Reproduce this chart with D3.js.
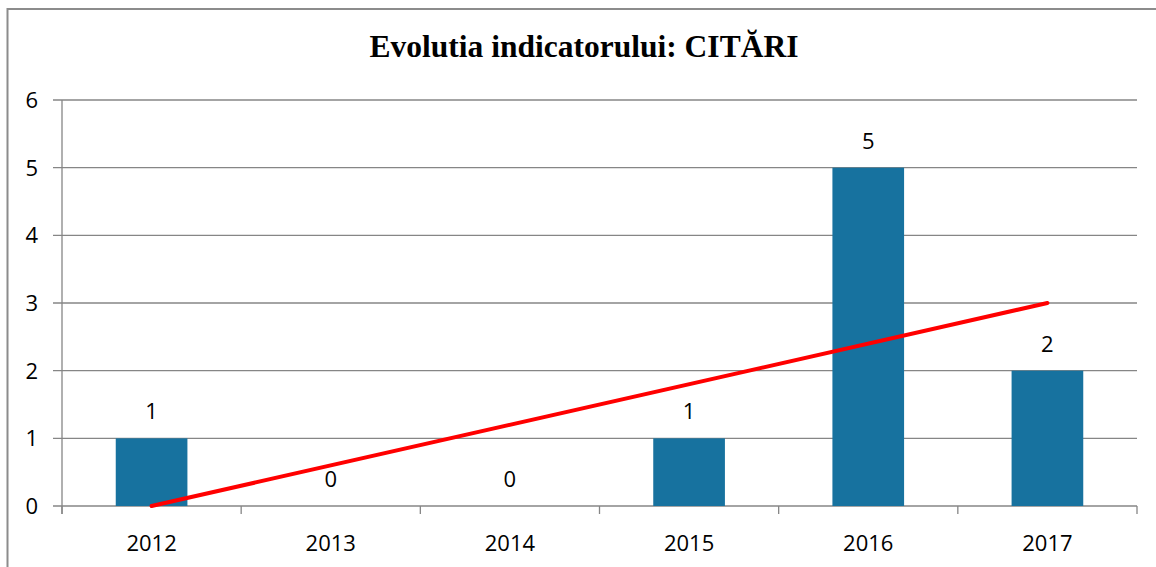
<!DOCTYPE html>
<html lang="ro">
<head>
<meta charset="utf-8">
<title>Evolutia indicatorului: CITĂRI</title>
<script src="https://d3js.org/d3.v7.min.js"></script>
<style>
  body { margin: 0; background: #fff; }
  svg { display: block; }
</style>
</head>
<body>
<script>
// DATA
var years = ["2012", "2013", "2014", "2015", "2016", "2017"];
var citari = [1, 0, 0, 1, 5, 2];
var yTicks = [0, 1, 2, 3, 4, 5, 6];
// linear trend line, value at first and last year
var trendEnds = [0, 3];

// SIZE
var w = 1156, h = 567;
var plotLeft = 62, plotRight = 1137, plotTop = 100, plotBottom = 506;
var labelFont = "'Open Sans', 'Liberation Sans', sans-serif";

var svg = d3.select("body").append("svg")
  .attr("width", w)
  .attr("height", h);

// outer chart frame (cut by the picture edge on the right and bottom)
svg.append("rect")
  .attr("x", 7.5).attr("y", 9)
  .attr("width", w + 20).attr("height", h + 20)
  .attr("fill", "none")
  .attr("stroke", "#8c8c8c")
  .attr("stroke-width", 2);

// SCALES
var x = d3.scaleBand()
  .domain(years)
  .range([plotLeft, plotRight])
  .paddingInner(0.6)
  .paddingOuter(0.3);

var xCenter = d3.scalePoint()
  .domain(years)
  .range([plotLeft, plotRight])
  .padding(0.5);

var y = d3.scaleLinear()
  .domain([0, 6])
  .range([plotBottom, plotTop]);

// GRID
svg.selectAll(".grid")
  .data(yTicks)
  .enter()
  .append("line")
  .attr("x1", plotLeft - 9)
  .attr("x2", plotRight)
  .attr("y1", function(d) { return y(d); })
  .attr("y2", function(d) { return y(d); })
  .attr("stroke", "#868686")
  .attr("stroke-width", 1.3);

// y axis line
svg.append("line")
  .attr("x1", plotLeft).attr("x2", plotLeft)
  .attr("y1", plotTop).attr("y2", plotBottom + 8)
  .attr("stroke", "#868686")
  .attr("stroke-width", 1.3);

// x ticks between categories
var bw = (plotRight - plotLeft) / years.length;
svg.selectAll(".xtick")
  .data(d3.range(years.length + 1))
  .enter()
  .append("line")
  .attr("x1", function(d) { return plotLeft + d * bw; })
  .attr("x2", function(d) { return plotLeft + d * bw; })
  .attr("y1", plotBottom)
  .attr("y2", plotBottom + 8)
  .attr("stroke", "#868686")
  .attr("stroke-width", 1.3);

// y labels
svg.selectAll(".ylab")
  .data(yTicks)
  .enter()
  .append("text")
  .text(function(d) { return d; })
  .attr("x", 38)
  .attr("y", function(d) { return y(d) + 8; })
  .attr("text-anchor", "end")
  .attr("font-family", labelFont)
  .attr("font-size", "22px")
  .attr("fill", "#000");

// BARS
svg.selectAll(".bar")
  .data(citari)
  .enter()
  .append("rect")
  .attr("x", function(d, i) { return x(years[i]); })
  .attr("y", function(d) { return y(d); })
  .attr("width", x.bandwidth())
  .attr("height", function(d) { return plotBottom - y(d); })
  .attr("fill", "#17729f");

// value labels
svg.selectAll(".vlab")
  .data(citari)
  .enter()
  .append("text")
  .text(function(d) { return d; })
  .attr("x", function(d, i) { return xCenter(years[i]); })
  .attr("y", function(d) { return y(d) - 19; })
  .attr("text-anchor", "middle")
  .attr("font-family", labelFont)
  .attr("font-size", "22px")
  .attr("fill", "#000");

// x labels
svg.selectAll(".xlab")
  .data(years)
  .enter()
  .append("text")
  .text(function(d) { return d; })
  .attr("x", function(d) { return xCenter(d); })
  .attr("y", 551)
  .attr("text-anchor", "middle")
  .attr("font-family", labelFont)
  .attr("font-size", "22px")
  .attr("fill", "#000");

// TREND LINE
svg.append("line")
  .attr("x1", xCenter(years[0]))
  .attr("y1", y(trendEnds[0]))
  .attr("x2", xCenter(years[years.length - 1]))
  .attr("y2", y(trendEnds[1]))
  .attr("stroke", "#ff0000")
  .attr("stroke-width", 4)
  .attr("stroke-linecap", "round");

// TITLE
svg.append("text")
  .text("Evolutia indicatorului: CITĂRI")
  .attr("x", 584)
  .attr("y", 57)
  .attr("text-anchor", "middle")
  .attr("font-family", "'Liberation Serif', 'Times New Roman', serif")
  .attr("font-weight", "bold")
  .attr("font-size", "31.5px")
  .attr("fill", "#000");
</script>
</body>
</html>
